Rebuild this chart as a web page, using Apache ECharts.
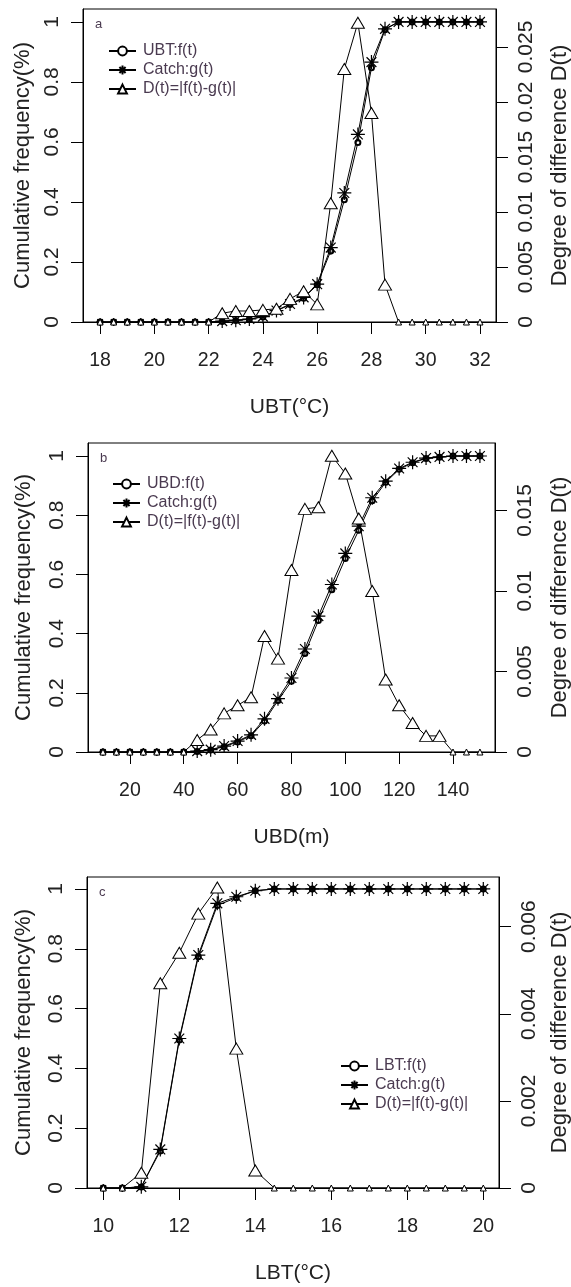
<!DOCTYPE html>
<html>
<head>
<meta charset="utf-8">
<script src="https://cdn.jsdelivr.net/npm/echarts@6/dist/echarts.min.js"></script>
<style>
  html, body { margin: 0; padding: 0; background: #fff; }
  #chart { width: 571px; height: 1287px; }
</style>
</head>
<body>
<div id="chart"></div>
<script>
// panel a: upper boundary temperature
const ubtX = [18, 18.5, 19, 19.5, 20, 20.5, 21, 21.5, 22, 22.5, 23, 23.5, 24, 24.5, 25, 25.5, 26, 26.5, 27, 27.5, 28, 28.5, 29, 29.5, 30, 30.5, 31, 31.5, 32];
const ubtF = [0, 0, 0, 0, 0, 0, 0, 0, 0, 0.002, 0.005, 0.009, 0.017, 0.037, 0.058, 0.079, 0.124, 0.237, 0.407, 0.598, 0.847, 0.974, 1, 1, 1, 1, 1, 1, 1];
const ubtG = [0, 0, 0, 0, 0, 0, 0, 0, 0, 0.003, 0.006, 0.01, 0.018, 0.038, 0.06, 0.082, 0.126, 0.248, 0.43, 0.625, 0.866, 0.977, 1, 1, 1, 1, 1, 1, 1];
const ubtD = [0, 0, 0, 0, 0, 0, 0, 0, 0, 0.0008, 0.001, 0.001, 0.0011, 0.0012, 0.0021, 0.0028, 0.0016, 0.0108, 0.023, 0.0272, 0.019, 0.0034, 0, 0, 0, 0, 0, 0, 0];
const ubtTicks = [18, 20, 22, 24, 26, 28, 30, 32];
const ubtDTicks = [0, 0.005, 0.01, 0.015, 0.02, 0.025];

// panel b: upper boundary depth
const ubdX = [10, 15, 20, 25, 30, 35, 40, 45, 50, 55, 60, 65, 70, 75, 80, 85, 90, 95, 100, 105, 110, 115, 120, 125, 130, 135, 140, 145, 150];
const ubdF = [0, 0, 0, 0, 0, 0, 0, 0.002, 0.007, 0.018, 0.034, 0.055, 0.105, 0.174, 0.239, 0.333, 0.444, 0.548, 0.654, 0.749, 0.849, 0.911, 0.955, 0.977, 0.992, 0.996, 1, 1, 1];
const ubdG = [0, 0, 0, 0, 0, 0, 0, 0.003, 0.008, 0.02, 0.037, 0.058, 0.112, 0.18, 0.25, 0.348, 0.459, 0.566, 0.671, 0.763, 0.859, 0.915, 0.958, 0.979, 0.993, 0.997, 1, 1, 1];
const ubdD = [0, 0, 0, 0, 0, 0, 0, 0.00075, 0.0014, 0.0024, 0.0029, 0.0034, 0.0072, 0.0058, 0.0113, 0.0151, 0.0152, 0.0184, 0.0173, 0.0145, 0.01, 0.0045, 0.0029, 0.0018, 0.001, 0.001, 0, 0, 0];
const ubdTicks = [20, 40, 60, 80, 100, 120, 140];
const ubdDTicks = [0, 0.005, 0.01, 0.015];

// panel c: lower boundary temperature
const lbtX = [10, 10.5, 11, 11.5, 12, 12.5, 13, 13.5, 14, 14.5, 15, 15.5, 16, 16.5, 17, 17.5, 18, 18.5, 19, 19.5, 20];
const lbtF = [0, 0, 0.0037, 0.124, 0.495, 0.773, 0.945, 0.971, 0.994, 1, 1, 1, 1, 1, 1, 1, 1, 1, 1, 1, 1];
const lbtG = [0, 0, 0.004, 0.129, 0.5, 0.779, 0.952, 0.974, 0.994, 1, 1, 1, 1, 1, 1, 1, 1, 1, 1, 1, 1];
const lbtD = [0, 0, 0.00035, 0.0047, 0.0054, 0.0063, 0.0069, 0.0032, 0.0004, 0, 0, 0, 0, 0, 0, 0, 0, 0, 0, 0, 0];
const lbtTicks = [10, 12, 14, 16, 18, 20];
const lbtDTicks = [0, 0.002, 0.004, 0.006];

const cumTicks = [0, 0.2, 0.4, 0.6, 0.8, 1];

const font = 'Liberation Sans, Arial, sans-serif';
const ink = '#222';
const legendInk = '#4a3a50';
const star = 'path://M0,-10L0,10M-10,0L10,0M-7,-7L7,7M-7,7L7,-7';

const panels = [
  { tag: 'a', x: ubtX, f: ubtF, g: ubtG, d: ubtD, xTicks: ubtTicks, dTicks: ubtDTicks,
    fName: 'UBT:f(t)', xName: 'UBT(°C)',
    grid: { left: 83, top: 9, width: 413, height: 313 },
    xRange: [17.37, 32.59], yMax: 1.043, dMax: 0.02845,
    legend: { left: 103, top: 38 } },
  { tag: 'b', x: ubdX, f: ubdF, g: ubdG, d: ubdD, xTicks: ubdTicks, dTicks: ubdDTicks,
    fName: 'UBD:f(t)', xName: 'UBD(m)',
    grid: { left: 88, top: 443, width: 407, height: 309 },
    xRange: [4.44, 155.6], yMax: 1.044, dMax: 0.01919,
    legend: { left: 107, top: 471 } },
  { tag: 'c', x: lbtX, f: lbtF, g: lbtG, d: lbtD, xTicks: lbtTicks, dTicks: lbtDTicks,
    fName: 'LBT:f(t)', xName: 'LBT(°C)',
    grid: { left: 87, top: 877, width: 412, height: 311 },
    xRange: [9.571, 20.413], yMax: 1.04, dMax: 0.00714,
    legend: { left: 335, top: 1053 } }
];

const dName = 'D(t)=|f(t)-g(t)|';
const tickStyle = { show: true, length: 12, lineStyle: { color: '#000', width: 1 } };

const option = {
  animation: false,
  backgroundColor: '#fff',
  textStyle: { fontFamily: font },
  grid: [],
  xAxis: [],
  yAxis: [],
  legend: [],
  series: [],
  graphic: []
};

panels.forEach((p, i) => {
  option.grid.push(Object.assign({
    show: true, borderColor: '#000', borderWidth: 1,
    containLabel: false, outerBoundsMode: 'none'
  }, p.grid));

  option.xAxis.push({
    gridIndex: i, type: 'value', min: p.xRange[0], max: p.xRange[1],
    name: p.xName, nameLocation: 'middle', nameGap: 75,
    nameTextStyle: { fontSize: 21, color: ink, fontFamily: font },
    axisLine: { show: true, lineStyle: { color: '#000', width: 1 } },
    axisTick: Object.assign({ customValues: p.xTicks }, tickStyle),
    axisLabel: { customValues: p.xTicks, fontSize: 19.5, color: ink, margin: 29, fontFamily: font },
    splitLine: { show: false }
  });

  const right = p.grid.left + p.grid.width;
  option.yAxis.push({
    gridIndex: i, type: 'value', min: 0, max: p.yMax, position: 'left',
    name: 'Cumulative frequency(%)', nameLocation: 'middle', nameGap: p.grid.left - 35,
    nameTextStyle: { fontSize: 22, color: ink, fontFamily: font },
    axisLine: { show: true, lineStyle: { color: '#000', width: 1 } },
    axisTick: Object.assign({ customValues: cumTicks }, tickStyle),
    axisLabel: { customValues: cumTicks, rotate: 90, fontSize: 21, color: ink, margin: 20, fontFamily: font },
    splitLine: { show: false }
  });
  option.yAxis.push({
    gridIndex: i, type: 'value', min: 0, max: p.dMax, position: 'right',
    name: 'Degree of difference D(t)', nameLocation: 'middle', nameGap: 549 - right,
    nameTextStyle: { fontSize: 22, color: ink, fontFamily: font },
    axisLine: { show: true, lineStyle: { color: '#000', width: 1 } },
    axisTick: Object.assign({ customValues: p.dTicks }, tickStyle),
    axisLabel: { customValues: p.dTicks, rotate: 90, fontSize: 21, color: ink, margin: 20, fontFamily: font },
    splitLine: { show: false }
  });

  const lineStyle = { color: '#000', width: 1 };
  option.series.push({
    name: p.fName, type: 'line', xAxisIndex: i, yAxisIndex: 2 * i,
    data: p.x.map((x, k) => [x, p.f[k]]),
    symbol: 'emptyCircle', symbolSize: 5,
    itemStyle: { color: '#000', borderColor: '#000', borderWidth: 1 },
    lineStyle: lineStyle, z: 2
  });
  option.series.push({
    name: 'Catch:g(t)', type: 'line', xAxisIndex: i, yAxisIndex: 2 * i,
    data: p.x.map((x, k) => [x, p.g[k]]),
    symbol: star, symbolSize: v => (v[1] === 0 ? 8 : 14),
    itemStyle: { color: '#000', borderColor: '#000', borderWidth: 1.2 },
    lineStyle: lineStyle, z: 3
  });
  option.series.push({
    name: dName, type: 'line', xAxisIndex: i, yAxisIndex: 2 * i + 1,
    data: p.x.map((x, k) => [x, p.d[k]]),
    symbol: 'triangle', symbolSize: v => (v[1] === 0 ? [6, 6] : [13, 11]),
    itemStyle: { color: '#fff', borderColor: '#000', borderWidth: 1 },
    lineStyle: lineStyle, z: 4
  });

  option.legend.push({
    orient: 'vertical', left: p.legend.left, top: p.legend.top,
    itemWidth: 27, itemHeight: 11, itemGap: 3,
    data: [p.fName, 'Catch:g(t)', dName],
    textStyle: { fontSize: 16, color: legendInk, fontFamily: font, padding: [0, 0, 0, 2] },
    selectedMode: false
  });

  option.graphic.push({
    type: 'text', left: p.grid.left + 12, top: p.grid.top + 9,
    style: { text: p.tag, font: '13px ' + font, fill: legendInk }
  });
});

const chart = echarts.init(document.getElementById('chart'), null, { renderer: 'canvas' });
chart.setOption(option);
</script>
</body>
</html>
